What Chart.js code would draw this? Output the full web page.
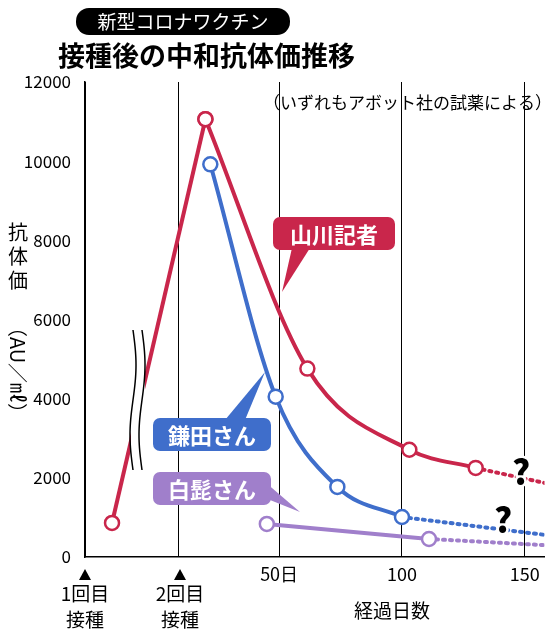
<!DOCTYPE html>
<html><head><meta charset="utf-8">
<script src="https://cdn.jsdelivr.net/npm/chart.js@4"></script>
<style>body{margin:0;background:#fff}#w{width:554px;height:640px}</style>
</head><body><div id="w"><canvas id="c"></canvas></div>
<script>
const FONT='"Noto Sans CJK JP","Noto Sans",sans-serif';
const yTicks=[0,2000,4000,6000,8000,10000,12000];
const xGridDays=[-29,9,50,100,150];
const xLabels={50:'50日',100:'100',150:'150'};
const redRiseX=[-18,20], redRiseY=[860,11060];
const redX=[20,61.5,103,130], redY=[11060,4760,2710,2250];
const redDotX=[130,158], redDotY=[2250,1870];
const blueX=[22,48.6,73.7,100], blueY=[9920,4050,1770,1010];
const blueDotX=[100,158], blueDotY=[1010,560];
const purX=[45,111], purY=[835,455];
const purDotX=[111,158], purDotY=[455,300];
const RED='#c9264b', BLUE='#3f6ecb', PUR='#a07fcb';
const pts=(xs,ys)=>xs.map((x,i)=>({x,y:ys[i]}));
function solid(xs,ys,c){return {data:pts(xs,ys),borderColor:c,borderWidth:4,pointRadius:7,pointBorderWidth:2.5,pointBackgroundColor:'#fff',pointBorderColor:c,cubicInterpolationMode:'monotone',order:1};}
function dot(xs,ys,c){return {data:pts(xs,ys),borderColor:c,borderWidth:4,borderDash:[2,5],borderCapStyle:'round',pointRadius:0,order:2};}
function box(ctx,x,y,w,h,c,t,r){ctx.fillStyle=c;ctx.beginPath();ctx.roundRect(x,y,w,h,r||7);ctx.fill();ctx.fillStyle='#fff';ctx.font='bold 22px '+FONT;ctx.textAlign='center';ctx.textBaseline='middle';ctx.fillText(t,x+w/2,y+h/2+1);}
const deco={id:'deco',afterDatasetsDraw(ch){
 const ctx=ch.ctx;ctx.save();
 ctx.fillStyle='#fff';ctx.fillRect(131,330,14,140);
 ctx.strokeStyle='#000';ctx.lineWidth=1.5;
 [133,142].forEach(x0=>{ctx.beginPath();for(let y=330;y<=470;y+=2){const x=x0+3*Math.sin((y-330)/140*Math.PI*2);y==330?ctx.moveTo(x,y):ctx.lineTo(x,y);}ctx.stroke();});
 ctx.fillStyle=RED;ctx.beginPath();ctx.moveTo(292,248);ctx.lineTo(310,248);ctx.lineTo(282,292);ctx.fill();
 box(ctx,273,217,122,33,RED,'山川記者');
 ctx.fillStyle=BLUE;ctx.beginPath();ctx.moveTo(225,420);ctx.lineTo(245,420);ctx.lineTo(265,372);ctx.fill();
 box(ctx,153,418,118,33,BLUE,'鎌田さん');
 ctx.fillStyle=PUR;ctx.beginPath();ctx.moveTo(265,482);ctx.lineTo(265,498);ctx.lineTo(300,512);ctx.fill();
 box(ctx,153,472,118,33,PUR,'白髭さん');
 ctx.fillStyle='#000';ctx.font='900 34px '+FONT;ctx.textAlign='center';ctx.textBaseline='middle';
 ctx.lineWidth=5;ctx.strokeStyle='#fff';
 ctx.strokeText('?',521,472);ctx.fillText('?',521,472);
 ctx.strokeText('?',503,520);ctx.fillText('?',503,520);
 box(ctx,76,8,214,27,'#000','',13);
 ctx.fillStyle='#fff';ctx.font='19px '+FONT;ctx.textAlign='center';ctx.fillText('新型コロナワクチン',183,22);
 ctx.fillStyle='#000';ctx.font='bold 27px '+FONT;ctx.textAlign='left';ctx.fillText('接種後の中和抗体価推移',58,56);
 ctx.font='17px '+FONT;ctx.textAlign='right';ctx.fillText('（いずれもアボット社の試薬による）',552,103);
 ctx.font='20px '+FONT;ctx.textAlign='center';
 ['抗','体','価'].forEach((t,i)=>ctx.fillText(t,18,232+i*24));
 ctx.save();ctx.translate(18,370);ctx.rotate(Math.PI/2);ctx.fillText('（AU／㎖）',0,0);ctx.restore();
 [[85,'1回目'],[180,'2回目']].forEach(([x,t])=>{
  ctx.beginPath();ctx.moveTo(x,569);ctx.lineTo(x-6,580);ctx.lineTo(x+6,580);ctx.fill();
  ctx.font='19px '+FONT;ctx.fillText(t,x,594);ctx.fillText('接種',x,620);});
 ctx.fillText('経過日数',392,611);
 ctx.restore();}};
const rise=solid(redRiseX,redRiseY,RED);rise.cubicInterpolationMode='default';rise.tension=0;
new Chart(document.getElementById('c'),{type:'line',
 data:{datasets:[rise,solid(redX,redY,RED),dot(redDotX,redDotY,RED),solid(blueX,blueY,BLUE),dot(blueDotX,blueDotY,BLUE),solid(purX,purY,PUR),dot(purDotX,purDotY,PUR)]},
 options:{responsive:true,maintainAspectRatio:false,animation:false,
  layout:{padding:{top:82,right:6,left:0,bottom:0}},
  plugins:{legend:{display:false},tooltip:{enabled:false}},
  scales:{
   x:{type:'linear',min:-29,max:158,
    afterBuildTicks:s=>{s.ticks=xGridDays.map(v=>({value:v}));},
    afterFit:s=>{s.height=83;},
    grid:{color:'#000',lineWidth:1,drawTicks:false},border:{color:'#000',width:1.5},
    ticks:{autoSkip:false,maxRotation:0,padding:6,color:'#000',font:{family:FONT,size:18},callback:v=>xLabels[v]||''}},
   y:{min:0,max:12000,
    afterBuildTicks:s=>{s.ticks=yTicks.map(v=>({value:v}));},
    afterFit:s=>{s.width=85;},
    grid:{display:false},border:{color:'#000',width:1.5},
    ticks:{color:'#000',padding:6,font:{family:FONT,size:17},callback:v=>String(v)}}}},
 plugins:[deco]});
</script></body></html>
